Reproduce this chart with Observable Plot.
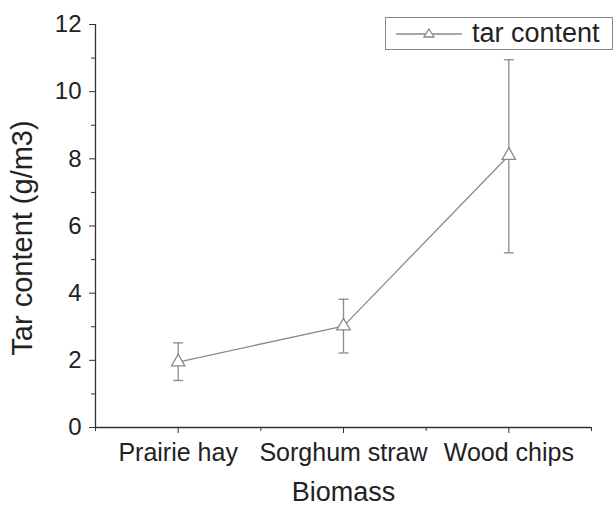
<!DOCTYPE html>
<html>
<head>
<meta charset="utf-8">
<script src="https://cdn.jsdelivr.net/npm/d3@7"></script>
<script src="https://cdn.jsdelivr.net/npm/@observablehq/plot@0.6"></script>
<style>
  body { margin: 0; background: #fff; }
  #wrap { position: relative; width: 616px; height: 506px; font-family: "Liberation Sans", Arial, sans-serif; }
  #legend { position: absolute; left: 385px; top: 17px; width: 228px; height: 33px; border: 1px solid #888; box-sizing: border-box; background: #fff; display: flex; align-items: center; }
  #legend span { font-size: 27px; color: #222; margin-left: 8px; line-height: 1; }
</style>
</head>
<body>
<div id="wrap"></div>
<script>
const categories = ["Prairie hay", "Sorghum straw", "Wood chips"];
const tarContent = [1.95, 3.02, 8.1];
const errLow = [1.4, 2.22, 5.2];
const errHigh = [2.52, 3.82, 10.95];
const yMajorTicks = [0, 2, 4, 6, 8, 10, 12];
const yMinorTicks = [1, 3, 5, 7, 9, 11];
const xMajorTicks = [1, 2, 3];
const xMinorTicks = [0.5, 1.5, 2.5, 3.5];

const data = categories.map((c, i) => ({pos: i + 1, name: c, v: tarContent[i], lo: errLow[i], hi: errHigh[i]}));
const caps = data.flatMap(d => [{pos: d.pos, y: d.lo}, {pos: d.pos, y: d.hi}]);

const gray = "#8a8a8a";
const axisColor = "#333";
const capSymbol = {draw(ctx, size) { ctx.moveTo(-5, 0); ctx.lineTo(5, 0); }};

const chart = Plot.plot({
  width: 616,
  height: 506,
  marginLeft: 95,
  marginRight: 25,
  marginTop: 24,
  marginBottom: 79,
  style: {fontFamily: "Liberation Sans, Arial, sans-serif", color: "#222", background: "#fff"},
  x: {type: "linear", domain: [0.5, 3.5]},
  y: {domain: [0, 12]},
  marks: [
    Plot.axisX({ticks: xMajorTicks, tickSize: 6, tickPadding: 10, fontSize: 25, stroke: axisColor, tickFormat: d => categories[d - 1], label: null}),
    Plot.axisX({ticks: xMinorTicks, tickSize: 4, tickFormat: () => "", stroke: axisColor, label: null}),
    Plot.axisY({ticks: yMajorTicks, tickSize: 6, tickPadding: 8, fontSize: 24, stroke: axisColor, label: null}),
    Plot.axisY({ticks: yMinorTicks, tickSize: 4, tickFormat: () => "", stroke: axisColor, label: null}),
    Plot.ruleY([0], {stroke: axisColor, strokeWidth: 1.3}),
    Plot.ruleX([0.5], {stroke: axisColor, strokeWidth: 1.3}),
    Plot.ruleX(data, {x: "pos", y1: "lo", y2: "hi", stroke: gray, strokeWidth: 1.3}),
    Plot.dot(caps, {x: "pos", y: "y", symbol: capSymbol, stroke: gray, strokeWidth: 1.3}),
    Plot.line(data, {x: "pos", y: "v", stroke: gray, strokeWidth: 1.3}),
    Plot.dot(data, {x: "pos", y: "v", symbol: "triangle", r: 5, fill: "white", stroke: gray, strokeWidth: 1.3}),
    Plot.text(["Biomass"], {frameAnchor: "bottom", dy: 65, fontSize: 27, lineAnchor: "middle", fill: "#222"}),
    Plot.text(["Tar content (g/m3)"], {frameAnchor: "left", dx: -73, dy: 12, rotate: -90, fontSize: 29, lineAnchor: "middle", textAnchor: "middle", fill: "#222"})
  ]
});

const wrap = document.getElementById("wrap");
wrap.appendChild(chart);
const legend = document.createElement("div");
legend.id = "legend";
legend.innerHTML = `<svg width="70" height="20" style="margin-left:8px"><line x1="2" y1="10" x2="68" y2="10" stroke="${gray}" stroke-width="1.3"/><path d="M35,5 L40,13 L30,13 Z" fill="white" stroke="${gray}" stroke-width="1.3"/></svg><span>tar content</span>`;
wrap.appendChild(legend);
</script>
</body>
</html>
